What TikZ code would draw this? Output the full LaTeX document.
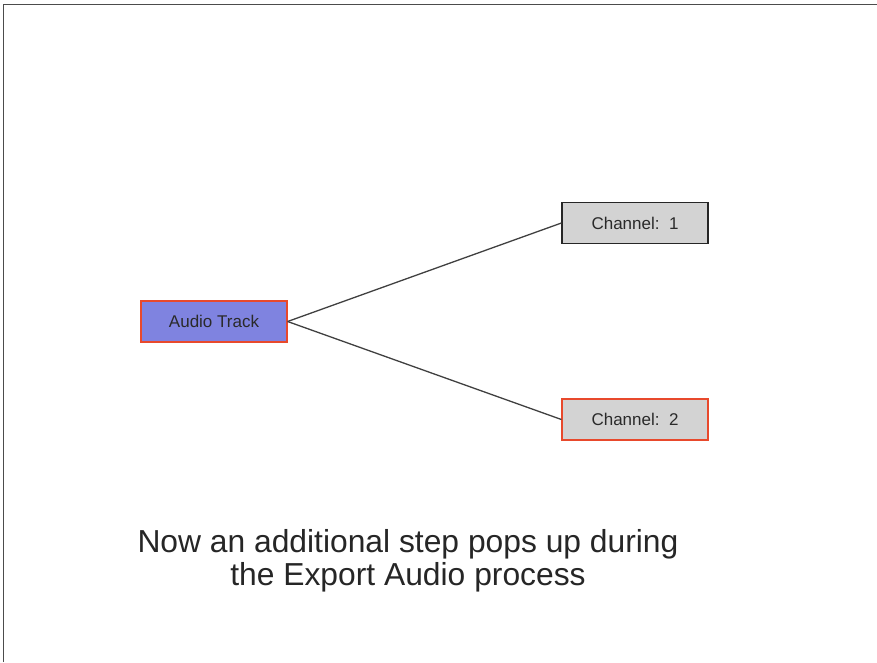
\documentclass[tikz,border=0pt]{standalone}
\usepackage{fontspec}
\setmainfont{Liberation Sans}
\definecolor{trackfill}{HTML}{7F83E0}
\definecolor{redborder}{HTML}{E8492C}
\definecolor{chanfill}{HTML}{D3D3D3}
\definecolor{textdark}{HTML}{2A2A2A}
\begin{document}
\begin{tikzpicture}[x=1pt,y=-1pt,
  box/.style={minimum width=146pt,minimum height=41pt,inner sep=0pt,line width=1.2pt,font=\fontsize{17}{19}\selectfont,text=textdark},
  conn/.style={draw=black!75,line width=1.3pt}]
\useasboundingbox (0,0) rectangle (877,662);
\draw[black!70,line width=1.6pt] (3.5,662) -- (3.5,4.5) -- (877,4.5);
\node[box,fill=trackfill,draw=redborder] (track) at (214,321.5) {Audio Track};
\node[box,fill=chanfill,draw=black!85] (ch1) at (635,223) {Channel:\ \ 1};
\node[box,fill=chanfill,draw=redborder] (ch2) at (635,419.5) {Channel:\ \ 2};
\draw[conn] (track.east) -- (ch1.west);
\draw[conn] (track.east) -- (ch2.west);
\node[align=center,font=\fontsize{31.8}{33}\selectfont,text=black!85] (caption) at (408,561) {Now an additional step pops up during\\the Export Audio process};
\end{tikzpicture}
\end{document}
